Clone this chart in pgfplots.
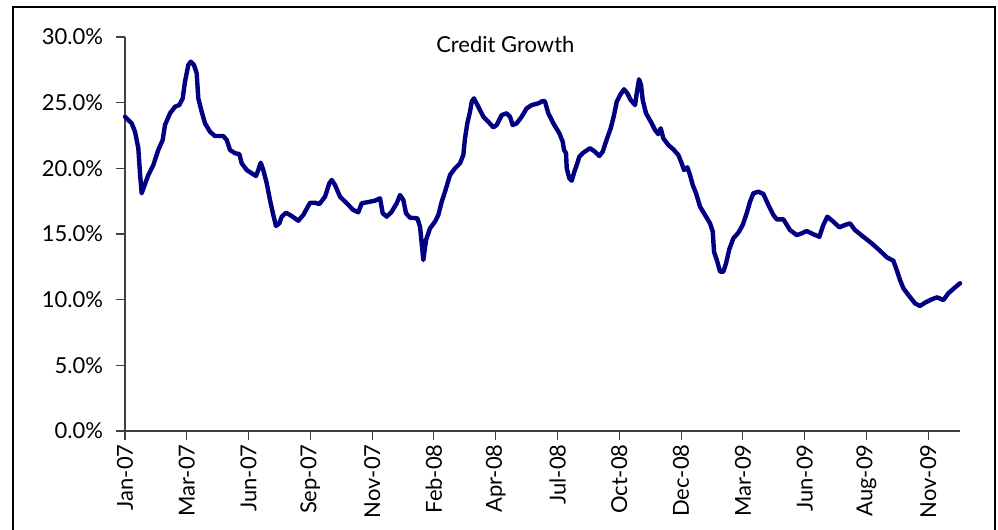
\documentclass[border=0pt]{standalone}
\usepackage{fontspec}
\setmainfont{Lato}
\usepackage{pgfplots}
\pgfplotsset{compat=1.18}
\definecolor{creditnavy}{RGB}{0,0,128}

\begin{document}
\begin{tikzpicture}
% page area (1px = 0.75pt), origin at the top left corner
\path[use as bounding box] (0,0) rectangle (748.5pt,-396.75pt);
% outer chart frame, open at the bottom of the page
\draw[line width=1.7pt] (9.75pt,-5.25pt) rectangle (746.25pt,-430pt);
\begin{axis}[
  at={(93.75pt,-323.25pt)}, anchor=south west,
  scale only axis, width=626.25pt, height=295.5pt,
  xmin=0, xmax=148.65, ymin=0, ymax=30,
  axis lines*=left,
  axis line style={line width=0.8pt, black!75},
  tick style={line width=0.8pt, black!75},
  tick align=outside, major tick length=6.5pt,
  xtick={0,11,...,143},
  xticklabels={Jan-07,Mar-07,Jun-07,Sep-07,Nov-07,Feb-08,Apr-08,Jul-08,Oct-08,Dec-08,Mar-09,Jun-09,Aug-09,Nov-09},
  x tick label style={rotate=90, anchor=east, font=\fontsize{16.5}{18}\selectfont},
  ytick={0,5,...,30},
  yticklabel={\pgfmathprintnumber[fixed,fixed zerofill,precision=1]{\tick}\%},
  y tick label style={font=\fontsize{16.5}{18}\selectfont, xshift=-6.5pt},
  /pgf/number format/assume math mode=true,
  clip=false,
]
\addplot[creditnavy, line width=3.3pt, line join=round, line cap=round] coordinates {
(0,23.93) (1.19,23.43) (1.78,22.79) (2.08,22.16) (2.37,21.53) (2.67,19.62) (2.97,18.10)
(3.38,18.60) (4.15,19.49) (5.04,20.25) (5.93,21.40) (6.71,22.16) (7.12,23.30) (8.01,24.19)
(8.90,24.69) (9.67,24.82) (10.27,25.33) (10.68,26.60) (11.27,27.87) (11.70,28.12) (12.28,27.87)
(12.76,27.24) (13.05,25.33) (13.65,24.31) (14.24,23.43) (15.13,22.79) (16.02,22.46) (17.50,22.46)
(18.11,22.16) (18.69,21.40) (19.58,21.15) (20.35,21.09) (20.78,20.38) (21.67,19.87) (22.56,19.62)
(23.32,19.42) (23.73,19.87) (24.16,20.43) (24.62,19.87) (25.23,18.86) (25.81,17.59) (26.40,16.45)
(26.88,15.61) (27.47,15.81) (27.90,16.32) (28.66,16.62) (29.68,16.37) (30.85,16.01) (31.74,16.45)
(32.94,17.38) (33.83,17.38) (34.59,17.28) (35.61,17.84) (36.37,18.86) (36.80,19.11) (37.39,18.73)
(38.28,17.84) (39.47,17.34) (40.64,16.83) (41.53,16.65) (42.14,17.34) (43.62,17.46) (44.51,17.54)
(45.40,17.72) (45.88,16.58) (46.59,16.32) (47.48,16.70) (48.37,17.34) (48.96,17.97) (49.55,17.59)
(50.03,16.58) (50.74,16.24) (52.04,16.20) (52.52,15.56) (52.82,14.29) (53.11,13.02) (53.59,14.54)
(54.30,15.43) (55.19,15.94) (55.78,16.45) (56.38,17.46) (56.97,18.22) (57.86,19.49) (58.75,20.00)
(59.64,20.38) (60.23,21.02) (60.53,22.29) (60.94,23.43) (61.42,24.31) (61.72,25.07) (62.13,25.33)
(62.90,24.69) (63.79,23.93) (64.68,23.55) (65.57,23.12) (66.17,23.30) (67.06,24.06) (67.95,24.19)
(68.54,23.93) (69.02,23.30) (69.73,23.43) (70.62,23.93) (71.51,24.57) (72.41,24.82) (73.58,24.95)
(74.47,25.15) (74.77,25.07) (75.36,24.19) (76.25,23.43) (77.32,22.67) (77.92,22.03) (78.16,21.40)
(78.51,21.15) (78.64,20.00) (79.10,19.24) (79.53,19.06) (79.99,19.74) (80.52,20.38) (80.88,20.89)
(81.59,21.19) (82.78,21.53) (83.67,21.27) (84.44,20.94) (85.04,21.27) (85.76,22.21) (86.47,23.05)
(87.06,24.06) (87.54,25.07) (88.13,25.58) (88.84,26.02) (89.43,25.71) (90.03,25.20) (90.80,24.82)
(91.10,25.71) (91.51,26.78) (91.86,26.35) (92.17,25.20) (92.75,24.19) (93.77,23.43) (94.36,22.92)
(94.94,22.61) (95.37,23.05) (95.83,22.29) (96.72,21.78) (97.61,21.45) (98.50,21.02) (99.11,20.38)
(99.52,19.87) (100.11,20.08) (100.59,19.49) (101.07,18.73) (101.66,18.10) (102.37,17.08) (103.26,16.45)
(104.15,15.81) (104.63,15.18) (104.86,13.65) (105.45,12.89) (105.93,12.13) (106.52,12.13) (107.00,12.77)
(107.58,13.84) (108.30,14.67) (109.19,15.10) (109.97,15.69) (110.68,16.58) (111.27,17.46) (111.86,18.10)
(112.75,18.22) (113.64,18.05) (114.53,17.21) (115.42,16.45) (116.02,16.12) (117.20,16.12) (118.39,15.30)
(119.58,14.92) (120.47,15.05) (121.36,15.23) (122.54,14.98) (123.61,14.79) (124.32,15.69) (125.03,16.32)
(126.10,15.94) (127.17,15.51) (128.18,15.69) (129.07,15.81) (129.96,15.30) (131.44,14.79) (132.93,14.29)
(134.41,13.73) (135.60,13.23) (136.78,12.97) (137.38,12.26) (137.97,11.50) (138.56,10.87) (139.45,10.36)
(140.64,9.72) (141.53,9.52) (142.42,9.77) (143.62,10.03) (144.61,10.18) (145.68,9.97) (146.57,10.48)
(147.59,10.87) (148.65,11.25)
};
\end{axis}
\node[font=\fontsize{16.5}{18}\selectfont] at (379pt,-33.5pt) {Credit Growth};
\end{tikzpicture}
\end{document}
